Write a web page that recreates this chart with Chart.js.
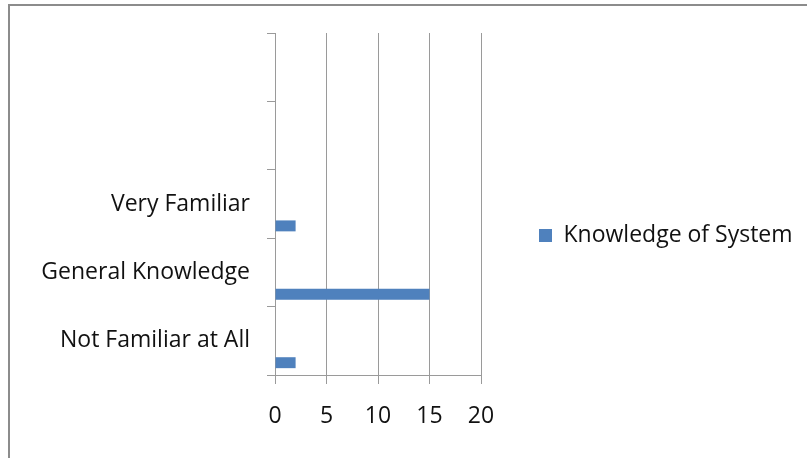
<!DOCTYPE html>
<html>
<head>
<meta charset="utf-8">
<script src="https://cdn.jsdelivr.net/npm/chart.js@4/dist/chart.umd.min.js"></script>
<style>
  html, body { margin: 0; padding: 0; background: #fff; overflow: hidden; width: 807px; height: 458px; }
  #frame { position: absolute; left: 8px; top: 4px; width: 900px; height: 600px; border: 2px solid #8c8c8c; box-sizing: border-box; }
  #wrap { position: absolute; left: 0; top: 0; width: 807px; height: 458px; }
</style>
</head>
<body>
<div id="frame"></div>
<div id="wrap"><canvas id="c" width="807" height="458"></canvas></div>
<script>
// Categories top-to-bottom (two empty slots at the top, as in the original)
const categories = ['', '', 'Very Familiar', 'General Knowledge', 'Not Familiar at All'];
const seriesName = 'Knowledge of System';
const knowledgeValues = [null, null, 2, 15, 2];
// Empty placeholder series that reserve their slots in each group
const emptySeries = [
  [null, null, null, null, null],
  [null, null, null, null, null],
  [null, null, null, null, null],
  [null, null, null, null, null]
];
const xTicks = [0, 5, 10, 15, 20];

const FONT = '"Open Sans", Lato, sans-serif';
const FSIZE = 23;
const GRID = '#9a9a9a';

const datasets = emptySeries.map(d => ({ label: '', data: d, backgroundColor: '#4F81BD' }));
datasets.push({ label: seriesName, data: knowledgeValues, backgroundColor: '#4F81BD' });

// Let the right-hand legend take a fixed width (Chart.js caps it at a quarter of the canvas otherwise)
const legendWidthPlugin = {
  id: 'legendWidth',
  beforeLayout(chart) {
    const lg = chart.legend;
    if (lg && !lg._patched) {
      const orig = lg.fit;
      lg.fit = function () { orig.call(this); this.width = 326; };
      lg._patched = true;
    }
  }
};

new Chart(document.getElementById('c'), {
  type: 'bar',
  data: { labels: categories, datasets: datasets },
  plugins: [legendWidthPlugin],
  options: {
    indexAxis: 'y',
    responsive: false,
    animation: false,
    devicePixelRatio: 1,
    categoryPercentage: 0.8,
    barPercentage: 1.0,
    layout: { padding: { top: 33, bottom: 20, left: 0, right: 0 } },
    plugins: {
      tooltip: { enabled: false },
      legend: {
        position: 'right',
        labels: {
          filter: item => item.text !== '',
          boxWidth: 13,
          boxHeight: 13,
          padding: 58,
          color: '#111',
          font: { family: FONT, size: FSIZE }
        }
      }
    },
    scales: {
      x: {
        min: 0,
        max: 20,
        afterBuildTicks: s => { s.ticks = xTicks.map(v => ({ value: v })); },
        afterFit: s => { s.height = 63; },
        grid: { color: GRID, lineWidth: 1, tickLength: 9, drawTicks: true },
        border: { color: GRID, width: 1 },
        ticks: { color: '#111', padding: 19, font: { family: FONT, size: FSIZE } }
      },
      y: {
        afterFit: s => { s.width = 275; },
        grid: { color: GRID, lineWidth: 1, drawOnChartArea: false, drawTicks: true, tickLength: 8 },
        border: { color: GRID, width: 1 },
        ticks: { color: '#111', padding: 17, font: { family: FONT, size: FSIZE } }
      }
    }
  }
});
</script>
</body>
</html>
